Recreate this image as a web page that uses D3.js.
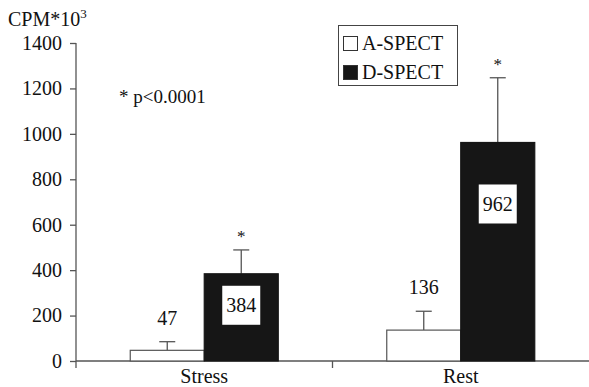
<!DOCTYPE html>
<html><head><meta charset="utf-8">
<script src="https://cdn.jsdelivr.net/npm/d3@7"></script>
<style>body{margin:0;background:#fff}svg{display:block}svg text{font-family:'Liberation Serif','Tinos','Times New Roman','DejaVu Serif',serif !important;fill:#111}</style>
</head><body><svg id="c" width="589" height="387"></svg>
<script>
const categories = ["Stress", "Rest"];
const seriesNames = ["A-SPECT", "D-SPECT"];
const aValues = [47, 136];
const dValues = [384, 962];
const aErrors = [38, 83];
const dErrors = [105, 285];
const yTicks = [0, 200, 400, 600, 800, 1000, 1200, 1400];

const svg = d3.select("#c");
const fs = 20;
const x0 = d3.scaleBand().domain(categories).range([76, 589]).paddingInner(0).paddingOuter(0);
const y = d3.scaleLinear().domain([0, 1400]).range([361, 43]);
const x1 = d3.scaleBand().domain(seriesNames).range([0, 148]);
const axisColor = "#555";

const ya = svg.append("g").attr("transform", "translate(76,0)")
  .call(d3.axisLeft(y).tickValues(yTicks).tickSize(6).tickPadding(8).tickFormat(d3.format("d")));
ya.attr("font-family", null);
ya.select(".domain").attr("stroke", axisColor).attr("stroke-width", 1.3).attr("d", "M0," + y(1400) + "V" + y(0));
ya.selectAll(".tick line").attr("stroke", axisColor).attr("stroke-width", 1.3);
ya.selectAll(".tick text").style("font-size", fs + "px").attr("fill", "#111");

const xa = svg.append("g").attr("transform", "translate(0,361)")
  .call(d3.axisBottom(x0).tickSize(0).tickPadding(6));
xa.attr("font-family", null);
xa.select(".domain").attr("stroke", axisColor).attr("stroke-width", 1.3).attr("d", "M76,0H589");
xa.selectAll(".tick text").style("font-size", fs + "px").attr("fill", "#111").attr("y", 22).attr("dy", null);
svg.append("g").selectAll("line").data([76, x0("Rest")]).join("line")
  .attr("x1", d => d).attr("x2", d => d).attr("y1", 361).attr("y2", 368)
  .attr("stroke", axisColor).attr("stroke-width", 1.3);

const rows = categories.map((c, i) => ({c, vals: [
  {s: "A-SPECT", v: aValues[i], e: aErrors[i]},
  {s: "D-SPECT", v: dValues[i], e: dErrors[i]}]}));

const cx = c => x0(c) + x0.bandwidth() / 2;
const bx = (c, s) => cx(c) - 74 + x1(s);

const g = svg.append("g");
rows.forEach(r => {
  r.vals.forEach(d => {
    const left = bx(r.c, d.s), w = x1.bandwidth();
    const mid = left + w / 2;
    g.append("line").attr("x1", mid).attr("x2", mid).attr("y1", y(d.v)).attr("y2", y(d.v + d.e))
      .attr("stroke", axisColor).attr("stroke-width", 1.3);
    g.append("line").attr("x1", mid - 8).attr("x2", mid + 8).attr("y1", y(d.v + d.e)).attr("y2", y(d.v + d.e))
      .attr("stroke", axisColor).attr("stroke-width", 1.3);
    g.append("rect").attr("x", left).attr("y", y(d.v)).attr("width", w).attr("height", y(0) - y(d.v))
      .attr("fill", d.s === "A-SPECT" ? "#fff" : "#161616")
      .attr("stroke", d.s === "A-SPECT" ? axisColor : "#161616").attr("stroke-width", 1.2);
    if (d.s === "A-SPECT") {
      g.append("text").attr("x", mid).attr("y", y(d.v + d.e) - 17).attr("text-anchor", "middle")
        .style("font-size", fs + "px").text(d.v);
    } else {
      const bw = 38, bh = 39;
      const by = y(d.v) + (r.c === "Stress" ? 12 : 42);
      g.append("rect").attr("x", mid - bw / 2).attr("y", by).attr("width", bw).attr("height", bh).attr("fill", "#fff");
      g.append("text").attr("x", mid).attr("y", by + bh / 2).attr("dy", "0.35em").attr("text-anchor", "middle")
        .style("font-size", fs + "px").text(d.v);
      g.append("text").attr("x", mid).attr("y", y(d.v + d.e) - 8).attr("text-anchor", "middle")
        .style("font-size", "17px").attr("fill", "#333").text("*");
    }
  });
});

const t = svg.append("text").attr("x", 8).attr("y", 26).style("font-size", fs + "px");
t.append("tspan").text("CPM*10");
t.append("tspan").attr("dy", -8).style("font-size", "13px").text("3");

svg.append("text").attr("x", 119).attr("y", 103).style("font-size", "19px").text("* p<0.0001");

const lg = svg.append("g");
lg.append("rect").attr("x", 338.5).attr("y", 25.5).attr("width", 119).attr("height", 60)
  .attr("fill", "#fff").attr("stroke", "#444").attr("stroke-width", 1);
seriesNames.forEach((s, i) => {
  const yy = 43 + i * 29;
  lg.append("rect").attr("x", 343.5).attr("y", yy - 6.5).attr("width", 14).attr("height", 14)
    .attr("fill", i === 0 ? "#fff" : "#161616").attr("stroke", "#333").attr("stroke-width", 1);
  lg.append("text").attr("x", 362).attr("y", yy).attr("dy", "0.35em").style("font-size", fs + "px").text(s);
});
</script></body></html>
